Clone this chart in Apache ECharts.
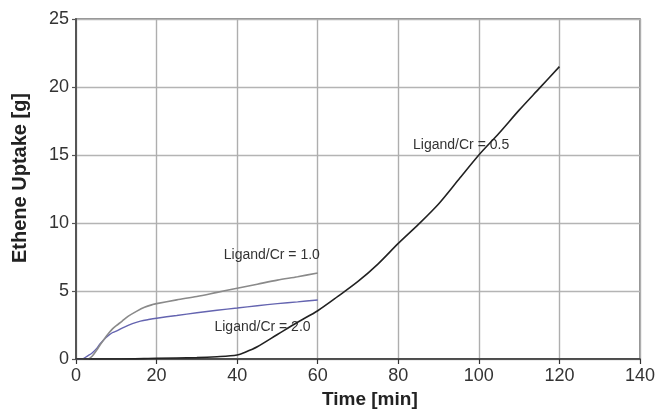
<!DOCTYPE html>
<html>
<head>
<meta charset="utf-8">
<script src="https://cdn.jsdelivr.net/npm/echarts@6/dist/echarts.min.js"></script>
<style>html,body{margin:0;padding:0;background:#fff;}#c{width:659px;height:413px;}</style>
</head>
<body>
<div id="c"></div>
<script>
// Data
var seriesNames = ['Ligand/Cr = 0.5', 'Ligand/Cr = 1.0', 'Ligand/Cr = 2.0'];

var time05 = [0, 3, 10, 20, 30, 35, 40, 42, 45, 50, 55, 60, 65, 70, 75, 80, 85, 90, 95, 100, 105, 110, 115, 120];
var uptake05 = [0, 0, 0, 0.05, 0.1, 0.17, 0.3, 0.5, 0.9, 1.8, 2.7, 3.55, 4.6, 5.7, 7.0, 8.5, 9.9, 11.4, 13.2, 15.0, 16.6, 18.3, 19.9, 21.5];

var time10 = [0, 3, 4, 5.2, 6, 6.9, 8, 9, 10, 11.4, 13, 15, 17, 19, 20, 25, 30, 35, 40, 45, 50, 55, 60];
var uptake10 = [0, 0, 0.2, 0.68, 1.05, 1.42, 1.85, 2.2, 2.45, 2.77, 3.15, 3.5, 3.8, 4.0, 4.07, 4.35, 4.6, 4.9, 5.2, 5.5, 5.8, 6.05, 6.33];

var time20 = [0, 1.5, 3, 4, 5.2, 6, 6.9, 8, 9, 10, 12, 14, 16, 18, 20, 25, 30, 35, 40, 45, 50, 55, 60];
var uptake20 = [0, 0, 0.25, 0.44, 0.8, 1.12, 1.42, 1.72, 1.93, 2.05, 2.35, 2.6, 2.78, 2.9, 3.0, 3.2, 3.4, 3.58, 3.75, 3.92, 4.07, 4.2, 4.34];

var xTicks = [0, 20, 40, 60, 80, 100, 120, 140];
var yTicks = [0, 5, 10, 15, 20, 25];

function pairs(xs, ys) { return xs.map(function (x, i) { return [x, ys[i]]; }); }

// label anchor positions (data coordinates)
var labelAnchors = [[95.6, 15.7], [48.6, 7.67], [46.3, 2.35]];
var colors = ['#222222', '#8a8a8a', '#6464b0'];
var widths = [1.6, 1.6, 1.4];
var dataSets = [pairs(time05, uptake05), pairs(time10, uptake10), pairs(time20, uptake20)];

var chart = echarts.init(document.getElementById('c'), null, { renderer: 'canvas' });
var font = 'Liberation Sans, Arial, sans-serif';

var series = dataSets.map(function (d, i) {
  return {
    name: seriesNames[i],
    type: 'line',
    data: d,
    showSymbol: false,
    symbol: 'none',
    smooth: 0.3,
    lineStyle: { color: colors[i], width: widths[i] },
    itemStyle: { color: colors[i] },
    z: 3 - i + 2,
    markPoint: {
      symbol: 'rect',
      symbolSize: 0,
      silent: true,
      data: [{ coord: labelAnchors[i], value: seriesNames[i] }],
      label: {
        show: true,
        position: 'inside',
        formatter: seriesNames[i],
        color: '#333',
        fontFamily: font,
        fontSize: 14
      }
    }
  };
});

chart.setOption({
  animation: false,
  backgroundColor: '#ffffff',
  grid: { left: 76, right: 19, top: 19, bottom: 54, show: true, borderColor: '#6e6e6e', borderWidth: 1.5, backgroundColor: 'transparent' },
  xAxis: {
    type: 'value', min: xTicks[0], max: xTicks[xTicks.length - 1], interval: 20,
    axisLine: { show: true, lineStyle: { color: '#333', width: 1.6 } },
    axisTick: { show: true, length: 5, inside: false, lineStyle: { color: '#333', width: 1.2 } },
    axisLabel: { color: '#333', fontSize: 18, fontFamily: font, margin: 8 },
    splitLine: { show: true, lineStyle: { color: '#aeaeae', width: 1.4 } }
  },
  yAxis: {
    type: 'value', min: yTicks[0], max: yTicks[yTicks.length - 1], interval: 5,
    axisLine: { show: true, lineStyle: { color: '#555', width: 2 } },
    axisTick: { show: true, length: 4, inside: false, lineStyle: { color: '#555', width: 1.2 } },
    axisLabel: { color: '#333', fontSize: 18, fontFamily: font, margin: 7 },
    splitLine: { show: true, lineStyle: { color: '#b4b4b4', width: 1.4 } }
  },
  graphic: [
    { type: 'text', left: 322, top: 390, style: { text: 'Time [min]', font: 'bold 19px ' + font, fill: '#222' } },
    { type: 'text', x: 20, y: 178, rotation: Math.PI / 2, style: { text: 'Ethene Uptake [g]', font: 'bold 20px ' + font, fill: '#222', textAlign: 'center', textVerticalAlign: 'middle' } }
  ],
  series: series
});
</script>
</body>
</html>
